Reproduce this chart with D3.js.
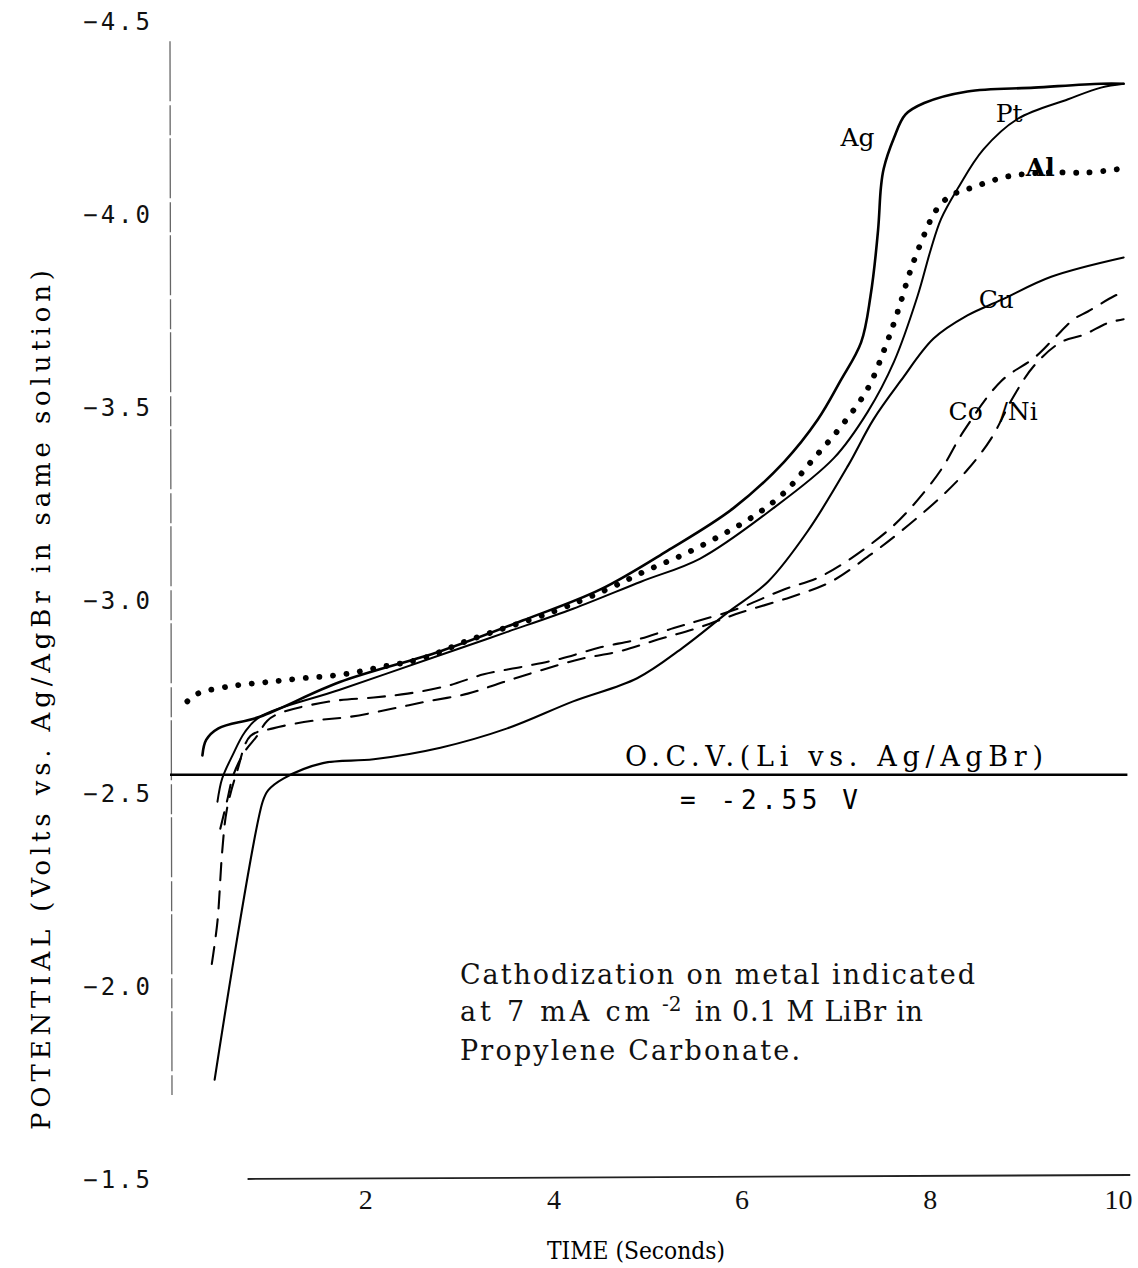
<!DOCTYPE html>
<html>
<head>
<meta charset="utf-8">
<script src="https://d3js.org/d3.v7.min.js"></script>
<style>
  body { margin: 0; background: #fff; }
  svg { display: block; }
</style>
</head>
<body>
<svg class="chart"></svg>
<script>
// time (s) and potential (V vs Ag/AgBr)
var agT = [0.27,0.31,0.44,0.88,1.73,2.80,3.68,4.50,5.21,5.91,6.45,6.81,7.05,7.27,7.37,7.45,7.48,7.51,7.62,7.74,7.94,8.40,9.11,9.82,10.06];
var agV = [-2.60,-2.64,-2.67,-2.70,-2.79,-2.87,-2.95,-3.03,-3.13,-3.24,-3.36,-3.47,-3.57,-3.67,-3.79,-3.96,-4.07,-4.12,-4.20,-4.26,-4.29,-4.32,-4.33,-4.34,-4.34];

var ptT = [0.43,0.48,0.59,0.72,0.88,1.73,2.80,3.51,4.21,4.93,5.56,6.28,6.98,7.34,7.62,7.87,8.01,8.12,8.30,8.57,8.94,9.47,9.82,10.06];
var ptV = [-2.48,-2.54,-2.60,-2.66,-2.70,-2.77,-2.86,-2.92,-2.98,-3.05,-3.11,-3.23,-3.37,-3.49,-3.62,-3.79,-3.91,-3.99,-4.07,-4.17,-4.25,-4.30,-4.33,-4.34];

var alT = [0.11,0.22,0.59,0.96,1.34,1.77,2.19,2.59,3.12,3.97,4.57,5.00,5.38,5.78,6.13,6.45,6.77,7.05,7.34,7.53,7.66,7.80,7.96,8.06,8.22,8.44,8.83,9.26,9.68,10.03];
var alV = [-2.74,-2.76,-2.78,-2.79,-2.80,-2.81,-2.83,-2.85,-2.90,-2.97,-3.03,-3.08,-3.12,-3.17,-3.22,-3.28,-3.37,-3.45,-3.55,-3.66,-3.75,-3.86,-3.96,-4.01,-4.05,-4.07,-4.10,-4.11,-4.11,-4.12];

var cuT = [0.40,0.91,0.97,1.13,1.55,2.09,2.80,3.51,4.21,4.89,5.38,5.85,6.28,6.70,7.13,7.40,7.69,8.04,8.40,8.76,9.29,10.06];
var cuV = [-1.76,-2.48,-2.51,-2.54,-2.58,-2.59,-2.62,-2.67,-2.74,-2.80,-2.88,-2.97,-3.05,-3.18,-3.35,-3.47,-3.57,-3.68,-3.74,-3.78,-3.84,-3.89];

var coT = [0.46,0.53,0.60,0.72,0.85,0.96,1.10,1.63,2.09,2.45,2.87,3.26,3.68,4.07,4.50,4.89,5.28,5.56,5.96,6.45,6.81,7.16,7.59,7.83,8.12,8.36,8.76,9.11,9.32,9.53,9.68,9.96,10.06];
var coV = [-2.41,-2.48,-2.55,-2.61,-2.65,-2.69,-2.71,-2.74,-2.75,-2.76,-2.78,-2.81,-2.83,-2.85,-2.88,-2.90,-2.93,-2.95,-2.98,-3.03,-3.06,-3.11,-3.19,-3.25,-3.34,-3.44,-3.57,-3.63,-3.68,-3.73,-3.75,-3.79,-3.80];

var niT = [0.37,0.43,0.48,0.53,0.64,0.78,1.02,1.45,1.84,2.27,2.66,3.09,3.47,3.86,4.29,4.71,5.11,5.53,5.99,6.52,6.95,7.37,7.69,8.12,8.40,8.65,8.89,9.11,9.39,9.64,9.89,10.06];
var niV = [-2.06,-2.17,-2.35,-2.46,-2.56,-2.65,-2.67,-2.69,-2.70,-2.72,-2.74,-2.76,-2.79,-2.82,-2.85,-2.87,-2.90,-2.93,-2.97,-3.01,-3.05,-3.12,-3.18,-3.27,-3.34,-3.42,-3.53,-3.61,-3.67,-3.69,-3.72,-3.73];

var ocv = -2.55;
var xTicks = [2,4,6,8,10];
var yTicks = [-4.5,-4.0,-3.5,-3.0,-2.5,-2.0,-1.5];

// curve name labels: [text, t, V]
var curveLabels = [["Ag",7.05,-4.18],["Pt",8.70,-4.24],["Al",9.02,-4.10],["Cu",8.52,-3.76],["Co",8.20,-3.47],["/Ni",8.74,-3.47]];

var width = 1138, height = 1268;
var serif = "'DejaVu Serif', serif";
var mono = "'DejaVu Sans Mono', monospace";

var x = d3.scaleLinear().domain([0,10]).range([177,1118]);
var y = d3.scaleLinear().domain([-1.5,-4.5]).range([1180,22]);

var svg = d3.select(".chart").attr("width",width).attr("height",height);
svg.append("rect").attr("width",width).attr("height",height).attr("fill","#fff");

// left axis
var yAxis = svg.append("g")
    .attr("transform","translate(170,0)")
    .call(d3.axisLeft(y).tickValues(yTicks).tickSize(0).tickPadding(17).tickFormat(d3.format(".1f")));
yAxis.select(".domain").remove();
yAxis.selectAll("text")
    .attr("font-family",mono)
    .attr("font-size",24)
    .attr("letter-spacing","3px")
    .attr("fill","#111");

svg.append("line")
    .attr("x1",170).attr("x2",172)
    .attr("y1",y(-4.45)).attr("y2",y(-1.72))
    .attr("stroke","#666").attr("stroke-width",1.3)
    .attr("stroke-dasharray","60,4,30,3");

// bottom axis
var xAxis = svg.append("g")
    .attr("transform","translate(0,1177)")
    .call(d3.axisBottom(x).tickValues(xTicks).tickSize(0).tickPadding(12));
xAxis.select(".domain").remove();
xAxis.selectAll("text")
    .attr("font-family","'Liberation Serif', serif")
    .attr("font-size",28)
    .attr("fill","#111");

svg.append("line")
    .attr("x1",x(0.75)).attr("x2",x(10.13))
    .attr("y1",1179).attr("y2",1175)
    .attr("stroke","#222").attr("stroke-width",1.8);

// OCV line
svg.append("line")
    .attr("x1",170).attr("x2",x(10.1))
    .attr("y1",y(ocv)).attr("y2",y(ocv))
    .attr("stroke","#000").attr("stroke-width",2.4);

var line = d3.line()
    .x(function(d) { return x(d[0]); })
    .y(function(d) { return y(d[1]); })
    .curve(d3.curveCatmullRom.alpha(0.5));

function pairs(t, v) { return t.map(function(d,i) { return [d, v[i]]; }); }

var series = [
  {data: pairs(agT,agV), dash: null, w: 2.6},
  {data: pairs(ptT,ptV), dash: null, w: 2.0},
  {data: pairs(cuT,cuV), dash: null, w: 2.1},
  {data: pairs(coT,coV), dash: "17,11", w: 2.1},
  {data: pairs(niT,niV), dash: "17,11", w: 2.1},
  {data: pairs(alT,alV), dash: "0.1,13.5", w: 5.8}
];

svg.append("g").selectAll("path")
    .data(series)
    .enter().append("path")
    .attr("d",function(d) { return line(d.data); })
    .attr("fill","none")
    .attr("stroke","#000")
    .attr("stroke-width",function(d) { return d.w; })
    .attr("stroke-linecap","round")
    .attr("stroke-dasharray",function(d) { return d.dash; });

// curve labels
svg.append("g").selectAll("text")
    .data(curveLabels)
    .enter().append("text")
    .attr("x",function(d) { return x(d[1]); })
    .attr("y",function(d) { return y(d[2]); })
    .attr("font-family",serif)
    .attr("font-size",25)
    .attr("font-weight",function(d) { return d[0] == "Al" ? "bold" : "normal"; })
    .text(function(d) { return d[0]; });

// axis titles
svg.append("text")
    .attr("transform","translate(50,700) rotate(-90)")
    .attr("text-anchor","middle")
    .attr("font-family",serif)
    .attr("font-size",26)
    .attr("textLength",860)
    .attr("lengthAdjust","spacing")
    .text("POTENTIAL (Volts vs. Ag/AgBr in same solution)");

svg.append("text")
    .attr("x",636).attr("y",1259)
    .attr("text-anchor","middle")
    .attr("font-family",serif)
    .attr("font-size",25)
    .attr("textLength",178)
    .attr("lengthAdjust","spacingAndGlyphs")
    .text("TIME (Seconds)");

// OCV annotation
svg.append("text")
    .attr("x",625).attr("y",766)
    .attr("font-family",serif)
    .attr("font-size",27)
    .attr("textLength",418)
    .attr("lengthAdjust","spacing")
    .text("O.C.V.(Li vs. Ag/AgBr)");
svg.append("text")
    .attr("x",680).attr("y",809)
    .attr("font-family",mono)
    .attr("font-size",26)
    .attr("textLength",178)
    .attr("lengthAdjust","spacing")
    .text("= -2.55 V");

// note
var note = svg.append("g")
    .attr("font-family",serif)
    .attr("font-size",27)
    .attr("fill","#111");
note.append("text").attr("x",460).attr("y",984)
    .attr("textLength",515).attr("lengthAdjust","spacing")
    .text("Cathodization on metal indicated");
note.append("text").attr("x",460).attr("y",1021)
    .attr("textLength",190).attr("lengthAdjust","spacing")
    .text("at 7 mA cm");
note.append("text").attr("x",662).attr("y",1011)
    .attr("font-size",20)
    .text("-2");
note.append("text").attr("x",695).attr("y",1021)
    .attr("textLength",228).attr("lengthAdjust","spacing")
    .text("in 0.1 M LiBr in");
note.append("text").attr("x",460).attr("y",1060)
    .attr("textLength",340).attr("lengthAdjust","spacing")
    .text("Propylene Carbonate.");
</script>
</body>
</html>
